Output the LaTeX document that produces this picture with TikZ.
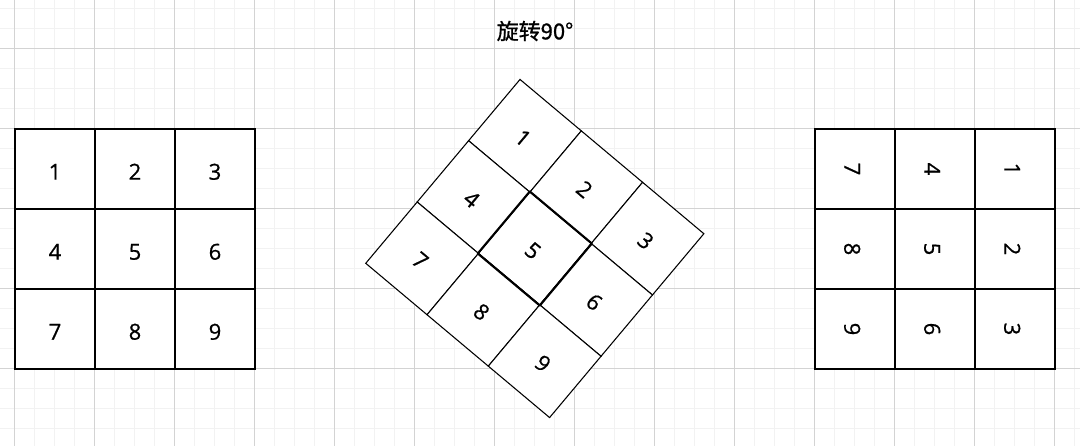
\documentclass[tikz,border=0pt]{standalone}
\usepackage{fontspec}
\setmainfont[FakeBold=0.7]{Open Sans}
\newfontfamily\cjk[FakeBold=0.9]{Noto Sans CJK SC}
\definecolor{minorgrid}{HTML}{F2F2F2}
\definecolor{majorgrid}{HTML}{D3D3D3}
\tikzset{cell/.style={draw=black, line width=1pt, fill=white, minimum size=60pt, inner sep=0pt, text height=16pt, text depth=0pt, font=\fontsize{16.5}{16.5}\selectfont}}

\begin{document}
\begin{tikzpicture}[x=.75pt, y=-.75pt]
\useasboundingbox (0,0) rectangle (1080,446);
\fill[white] (0,0) rectangle (1080,446);
\foreach \x in {-5.5,14.5,...,1080} \draw[minorgrid, line width=.75pt] (\x,0)--(\x,446);
\foreach \y in {8,28,...,446} \draw[minorgrid, line width=.75pt] (0,\y)--(1080,\y);
\foreach \x in {14.5,94.5,...,1080} \draw[majorgrid, line width=.75pt] (\x,0)--(\x,446);
\foreach \y in {48,128,...,446} \draw[majorgrid, line width=.75pt] (0,\y)--(1080,\y);
\node[font=\cjk\fontsize{16.5}{16.5}\selectfont] (title) at (535,31) {旋转90°};
\foreach \r in {0,1,2} {
 \foreach \c in {0,1,2} {
  \pgfmathtruncatemacro\n{3*\r+\c+1}
  \pgfmathtruncatemacro\m{3*(2-\c)+\r+1}
  \node[cell] (l\n) at (55+80*\c,169+80*\r) {\n};
  \node[cell, rotate=-90] (r\m) at (855+80*\c,169+80*\r) {\m};
 }
}
\begin{scope}[shift={(534.8,248.5)}, rotate=-40]
\foreach \r in {0,1,2} {
 \foreach \c in {0,1,2} {
  \pgfmathtruncatemacro\n{3*\r+\c+1}
  \node[cell, line width=.8pt, transform shape] (m\n) at (80*\c-80,80*\r-80) {\n};
 }
}
\end{scope}
\draw[line width=1.5pt, line join=round] (m5.north west)--(m5.north east)--(m5.south east)--(m5.south west)--cycle;
\end{tikzpicture}
\end{document}
